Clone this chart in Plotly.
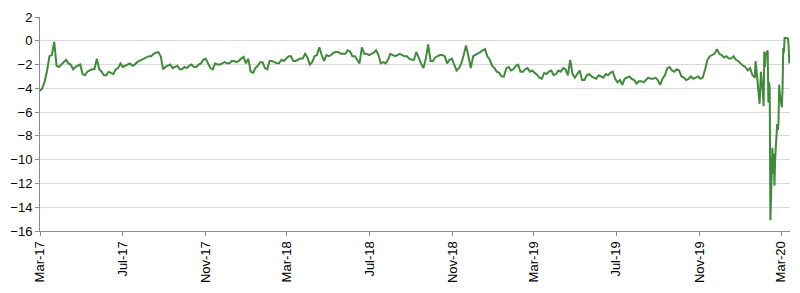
import pandas as pd
import plotly.graph_objects as go

# Twice-weekly observations (every 3.5 days), Mar 2017 - Jan 2020
semiweekly_start = "2017-03-01"
semiweekly_values = [
    -4.2, -4.0, -3.4, -2.5, -1.3, -1.2, -0.1, -2.1, -2.2, -2.0,
    -1.8, -1.6, -1.9, -2.0, -2.4, -2.2, -2.1, -2.0, -2.8, -2.9,
    -2.6, -2.5, -2.4, -2.4, -1.5, -2.4, -2.6, -2.9, -2.9, -2.6,
    -2.7, -2.8, -2.4, -2.3, -1.9, -2.2, -2.1, -2.0, -1.9, -2.1,
    -2.0, -1.8, -1.7, -1.6, -1.5, -1.4, -1.3, -1.3, -1.1, -1.0,
    -0.95, -1.3, -2.4, -2.2, -2.1, -2.0, -2.3, -2.2, -2.1, -2.4,
    -2.4, -2.2, -2.3, -2.1, -2.0, -2.2, -2.2, -2.0, -1.9, -1.6,
    -1.5, -1.9, -2.3, -2.4, -1.9, -2.0, -2.0, -1.9, -1.8, -1.9,
    -1.9, -1.7, -1.7, -1.8, -1.7, -1.5, -1.35, -1.9, -1.5, -2.6,
    -2.7, -2.3, -2.1, -1.8, -1.8, -2.3, -2.4, -1.7, -1.7, -1.8,
    -1.9, -1.9, -1.6, -1.7, -1.5, -1.3, -1.3, -1.7, -1.7, -1.6,
    -1.5, -1.5, -1.1, -1.4, -2.0, -1.8, -1.3, -1.2, -0.55, -1.2,
    -1.7, -1.2, -1.3, -1.2, -1.0, -0.95, -0.95, -1.1, -1.1, -1.1,
    -0.8, -0.9, -1.3, -1.3, -1.6, -1.9, -0.55, -1.1, -1.1, -1.2,
    -1.1, -1.0, -0.8, -1.2, -1.9, -1.8, -1.9, -1.6, -1.1, -1.2,
    -1.3, -1.2, -1.1, -1.2, -1.3, -1.3, -1.5, -1.6, -1.6, -0.95,
    -1.5, -1.9, -2.3, -1.5, -0.3, -1.7, -1.7, -1.4, -1.3, -1.2,
    -1.2, -1.3, -1.9, -1.6, -1.5, -2.0, -2.5, -2.3, -1.9, -1.2,
    -0.4, -1.3, -2.3, -1.3, -1.2, -1.1, -0.95, -0.8, -0.7, -1.3,
    -1.6, -2.1, -2.3, -2.6, -2.7, -3.0, -3.0, -2.3, -2.2, -2.5,
    -2.4, -2.1, -2.0, -2.6, -2.6, -2.4, -2.3, -2.6, -2.5, -2.7,
    -2.85, -3.1, -3.2, -2.7, -2.8, -2.6, -2.5, -2.9, -2.8, -2.5,
    -2.6, -2.3, -2.4, -2.9, -1.6, -2.8, -3.1, -2.8, -2.5, -3.3,
    -3.3, -2.9, -2.8, -3.0, -3.1, -3.2, -2.9, -3.0, -3.1, -2.8,
    -2.9, -2.7, -2.6, -3.2, -3.5, -3.3, -3.7, -3.2, -3.1, -3.0,
    -3.2, -3.3, -3.6, -3.4, -3.4, -3.5, -3.3, -3.1, -3.2, -3.2,
    -3.1, -3.3, -3.7, -3.2, -2.9, -2.3, -2.2, -2.5, -2.6, -2.4,
    -2.5, -3.0, -3.1, -3.3, -3.2, -3.0, -3.2, -3.1, -3.0, -3.2,
    -3.1, -2.4, -1.6, -1.3, -1.2, -1.1, -0.7, -1.1, -1.2, -1.4,
    -1.3, -1.5, -1.5, -1.3, -1.6, -1.7, -1.9, -2.1, -2.2, -2.5,
    -2.3, -2.9, -3.1,
]

# Daily (business-day) observations, Jan 23 2020 - Mar 13 2020
daily_start = "2020-01-23"
daily_end = "2020-03-13"
daily_values = [
    -1.7, -2.2, -3.8, -4.6, -5.3, -4.0, -2.6, -4.5, -5.5, -0.9,
    -2.2, -1.2, -0.8, -5.2, -3.5, -4.0, -15.1, -9.0, -11.2, -9.5,
    -12.2, -10.0, -7.0, -7.5, -6.9, -3.7, -4.5, -5.6, -4.0, -0.6,
    -1.0, 0.25, 0.25, 0.25, 0.2, -0.5, -1.9,
]

tick_dates = ["2017-03-01", "2017-07-01", "2017-11-01", "2018-03-01", "2018-07-01",
              "2018-11-01", "2019-03-01", "2019-07-01", "2019-11-01", "2020-03-01"]
tick_labels = ["Mar-17", "Jul-17", "Nov-17", "Mar-18", "Jul-18",
               "Nov-18", "Mar-19", "Jul-19", "Nov-19", "Mar-20"]
y_ticks = list(range(-16, 3, 2))

semiweekly_dates = pd.date_range(semiweekly_start, periods=len(semiweekly_values), freq="84h")
daily_dates = pd.bdate_range(daily_start, daily_end)
dates = list(semiweekly_dates) + list(daily_dates)
values = semiweekly_values + daily_values

fig = go.Figure()
fig.add_trace(go.Scatter(
    x=dates, y=values, mode="lines",
    line=dict(color="#3f8b3a", width=2),
    showlegend=False,
))

axis_col = "#8c8c8c"
fig.update_layout(
    width=800, height=293,
    margin=dict(l=40, r=10, t=10, b=59),
    paper_bgcolor="white", plot_bgcolor="white",
    font=dict(family="Liberation Sans, Arial, sans-serif", size=13, color="#000000"),
    xaxis=dict(
        range=["2017-03-01", "2020-03-14"],
        tickmode="array", tickvals=tick_dates, ticktext=tick_labels,
        tickangle=-90, ticks="outside", ticklen=4, tickcolor=axis_col,
        showline=True, linecolor=axis_col, linewidth=1,
        showgrid=False, zeroline=False,
    ),
    yaxis=dict(
        range=[-16, 2], tickvals=y_ticks,
        ticks="outside", ticklen=4, tickcolor=axis_col,
        showline=True, linecolor=axis_col, linewidth=1,
        showgrid=True, gridcolor="#d9d9d9", gridwidth=1,
        zeroline=False,
    ),
)

fig.write_html("out.html")
